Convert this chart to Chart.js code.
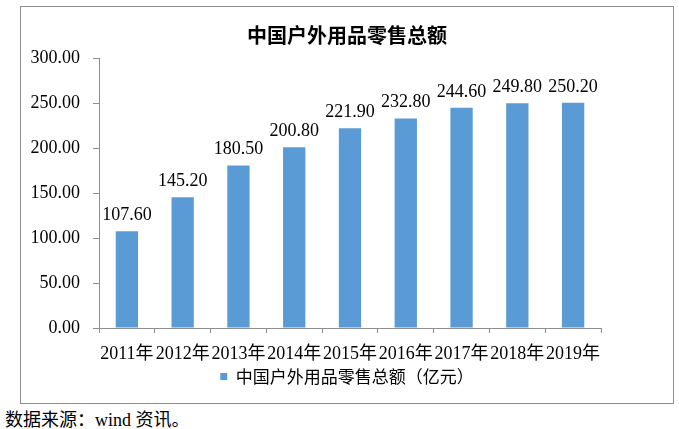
<!DOCTYPE html>
<html>
<head>
<meta charset="utf-8">
<script src="https://cdn.jsdelivr.net/npm/chart.js@4"></script>
<style>
  html, body { margin: 0; padding: 0; background: #fff; }
  body { width: 679px; height: 429px; position: relative; overflow: hidden; }
  #box { position: absolute; left: 20px; top: 6px; width: 652px; height: 396px; border: 1px solid #8e8e8e; }
  #source { position: absolute; left: 5px; top: 405px; font: 18px "Liberation Serif", "Noto Sans CJK SC", serif; color: #000; white-space: nowrap; }
</style>
</head>
<body>
<div id="box"><canvas id="c" width="652" height="396"></canvas></div>
<div id="source">数据来源：wind 资讯。</div>
<script>
// data
var years = ['2011年', '2012年', '2013年', '2014年', '2015年', '2016年', '2017年', '2018年', '2019年'];
var sales = [107.6, 145.2, 180.5, 200.8, 221.9, 232.8, 244.6, 249.8, 250.2];
var yMin = 0, yMax = 300, yStep = 50;
var seriesName = '中国户外用品零售总额（亿元）';
var chartTitle = '中国户外用品零售总额';

var serif = '"Liberation Serif", "Noto Sans CJK SC", serif';
var axisColor = '#8e8e8e';

// value labels above the bars
var barLabels = {
  id: 'barLabels',
  afterDatasetsDraw: function (chart) {
    var ctx = chart.ctx;
    var meta = chart.getDatasetMeta(0);
    ctx.save();
    ctx.font = '18px ' + serif;
    ctx.fillStyle = '#000';
    ctx.textAlign = 'center';
    ctx.textBaseline = 'bottom';
    meta.data.forEach(function (bar, i) {
      ctx.fillText(sales[i].toFixed(2), bar.x, bar.y - 7);
    });
    ctx.restore();
  }
};

new Chart(document.getElementById('c'), {
  type: 'bar',
  data: {
    labels: years,
    datasets: [{
      label: seriesName,
      data: sales,
      backgroundColor: '#5b9bd5',
      borderWidth: 0,
      categoryPercentage: 1,
      barPercentage: 0.4
    }]
  },
  options: {
    responsive: false,
    animation: false,
    layout: { padding: { left: 0, right: 0, top: 0, bottom: 8 } },
    plugins: {
      title: {
        display: true, text: chartTitle, color: '#000',
        font: { size: 20, weight: 'bold', family: serif },
        padding: { top: 19, bottom: 8 }
      },
      legend: {
        position: 'bottom',
        labels: {
          color: '#000', boxWidth: 7, boxHeight: 7, padding: 5,
          font: { size: 17, family: '"Noto Sans CJK SC", sans-serif' }
        }
      },
      tooltip: { enabled: false }
    },
    scales: {
      x: {
        afterFit: function (scale) { scale.height = 35; },
        grid: { drawOnChartArea: false, tickLength: 5, color: axisColor, offset: true },
        border: { color: axisColor },
        ticks: { color: '#000', font: { size: 18, family: serif }, padding: 10, maxRotation: 0, autoSkip: false }
      },
      y: {
        min: yMin, max: yMax,
        afterFit: function (scale) { scale.width = 78; },
        grid: { drawOnChartArea: false, tickLength: 6, color: axisColor },
        border: { color: axisColor },
        ticks: {
          stepSize: yStep, color: '#000', padding: 13,
          font: { size: 18, family: serif },
          callback: function (v) { return v.toFixed(2); }
        }
      },
      // empty right margin so the plot stops where the reference does
      spacer: {
        position: 'right', min: 0, max: 1,
        afterFit: function (scale) { scale.width = 72; },
        grid: { display: false }, border: { display: false }, ticks: { display: false }
      }
    }
  },
  plugins: [barLabels]
});
</script>
</body>
</html>
